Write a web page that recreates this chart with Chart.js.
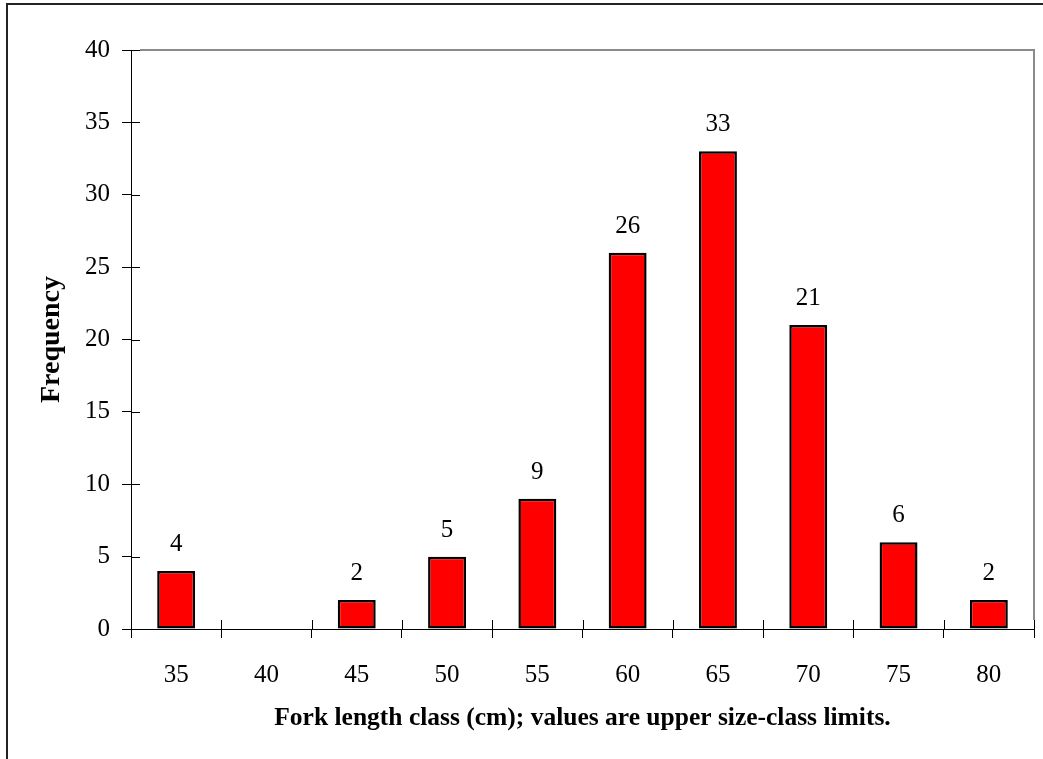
<!DOCTYPE html>
<html>
<head>
<meta charset="utf-8">
<script src="https://cdn.jsdelivr.net/npm/chart.js@4/dist/chart.umd.min.js"></script>
<style>
  html, body { margin: 0; padding: 0; background: #fff; overflow: hidden; }
  #caixa { position: relative; width: 1043px; height: 759px; }
  #moldura { position: absolute; left: 6px; top: 3px; width: 1100px; height: 800px; border: 2px solid #222; box-sizing: border-box; }
  canvas { position: absolute; left: 0; top: 0; }
</style>
</head>
<body>
<div id="caixa">
  <div id="moldura"></div>
  <canvas id="grafico" width="1043" height="759"></canvas>
</div>
<script>
// Classes de comprimento (limite superior) e frequencias
const classes = ["35", "40", "45", "50", "55", "60", "65", "70", "75", "80"];
const frequencia = [4, 0, 2, 5, 9, 26, 33, 21, 6, 2];
const rotulos = ["4", "", "2", "5", "9", "26", "33", "21", "6", "2"];
const yTicks = [0, 5, 10, 15, 20, 25, 30, 35, 40];

const fonte = "'Liberation Serif', 'Times New Roman', serif";

// valores em cima das barras
const pluginRotulos = {
    id: 'rotulos',
    afterDatasetsDraw(chart) {
        const ctx = chart.ctx;
        const meta = chart.getDatasetMeta(0);
        ctx.save();
        ctx.font = `25px ${fonte}`;
        ctx.fillStyle = '#000';
        ctx.textAlign = 'center';
        ctx.textBaseline = 'alphabetic';
        meta.data.forEach((bar, i) => {
            if (!rotulos[i]) return;
            ctx.fillText(rotulos[i], bar.x, bar.y - 20);
        });
        ctx.restore();
    }
};

// moldura cinza da area do grafico e tracinhos que cruzam os eixos
const pluginEixos = {
    id: 'eixos',
    afterDraw(chart) {
        const ctx = chart.ctx;
        const a = chart.chartArea;
        const sx = chart.scales.x, sy = chart.scales.y;
        ctx.save();
        ctx.strokeStyle = '#8a8a8a';
        ctx.lineWidth = 2;
        ctx.beginPath();
        ctx.moveTo(a.left + 9, a.top);
        ctx.lineTo(a.right, a.top);
        ctx.lineTo(a.right, a.bottom - 9);
        ctx.stroke();

        ctx.strokeStyle = '#000';
        ctx.lineWidth = 1;
        ctx.beginPath();
        for (let i = 0; i <= classes.length; i++) {
            const x = Math.round(sx.getPixelForValue(i - 0.5)) + 0.5;
            ctx.moveTo(x, a.bottom);
            ctx.lineTo(x, a.bottom - 9);
        }
        yTicks.forEach(v => {
            const y = Math.round(sy.getPixelForValue(v)) + 0.5;
            ctx.moveTo(a.left, y);
            ctx.lineTo(a.left + 9, y);
        });
        ctx.stroke();
        ctx.restore();
    }
};

const ctx = document.getElementById('grafico').getContext('2d');
const grafico = new Chart(ctx, {
    type: 'bar',
    data: {
        labels: classes,
        datasets: [{
            data: frequencia,
            backgroundColor: '#ff0000',
            borderColor: '#000',
            borderWidth: 2.5,
            borderSkipped: false,
            categoryPercentage: 1,
            barPercentage: 0.42
        }]
    },
    options: {
        responsive: false,
        animation: false,
        events: [],
        layout: { padding: { left: 0, right: 9, top: 50, bottom: 0 } },
        plugins: {
            legend: { display: false },
            tooltip: { enabled: false }
        },
        scales: {
            x: {
                grid: { offset: true, drawOnChartArea: false, drawTicks: true, tickLength: 9, color: '#000' },
                border: { display: true, color: '#000', width: 1 },
                ticks: { color: '#000', font: { family: fonte, size: 25 }, padding: 22, maxRotation: 0 },
                title: {
                    display: true,
                    text: 'Fork length class (cm); values are upper size-class limits.',
                    color: '#000',
                    font: { family: fonte, size: 25.5, weight: 'bold' },
                    padding: { top: 0, bottom: 25 }
                },
                afterFit(scale) { scale.height = 130; }
            },
            y: {
                min: 0,
                max: 40,
                afterBuildTicks(scale) { scale.ticks = yTicks.map(v => ({ value: v })); },
                grid: { drawOnChartArea: false, drawTicks: true, tickLength: 9, color: '#000' },
                border: { display: true, color: '#000', width: 1 },
                ticks: { color: '#000', font: { family: fonte, size: 25 }, padding: 12 },
                title: {
                    display: true,
                    text: 'Frequency',
                    color: '#000',
                    font: { family: fonte, size: 28, weight: 'bold' },
                    padding: { top: 35, bottom: 0 }
                },
                afterFit(scale) { scale.width = 131; }
            }
        }
    },
    plugins: [pluginRotulos, pluginEixos]
});
</script>
</body>
</html>
